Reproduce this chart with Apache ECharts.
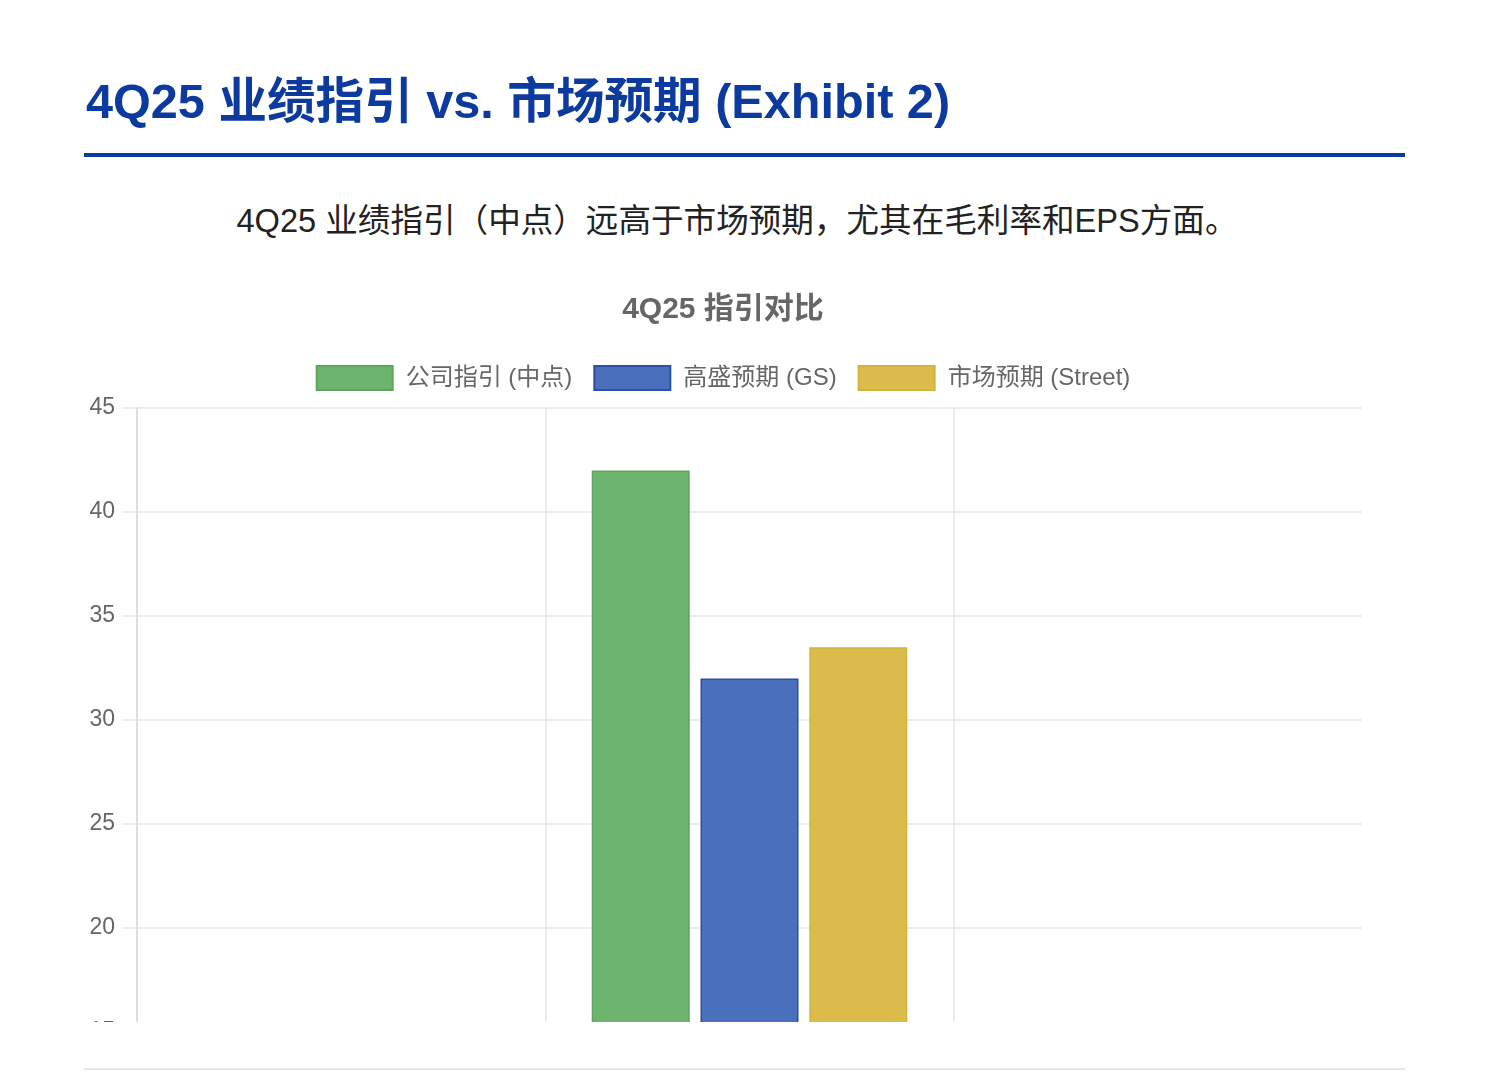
<!DOCTYPE html>
<html><head><meta charset="utf-8">
<script src="https://cdn.jsdelivr.net/npm/echarts@6/dist/echarts.min.js"></script>
<style>
html,body{margin:0;padding:0;background:#fff;width:1488px;height:1080px;overflow:hidden;}
body{font-family:"Liberation Sans","Noto Sans CJK SC",sans-serif;position:relative;}
#h1{position:absolute;left:86px;top:70px;line-height:62px;font-size:48.6px;font-weight:bold;color:#0d3a9e;white-space:nowrap;margin:0;}
#rule{position:absolute;left:84px;top:153px;width:1321px;height:4px;background:#0d3a9e;}
#sub{position:absolute;left:84px;width:1306px;top:199px;line-height:44px;font-size:32.6px;color:#222;text-align:center;white-space:nowrap;}
#clip{position:absolute;left:0;top:0;width:1488px;height:1022px;overflow:hidden;}
#chart{position:absolute;left:84px;top:0;width:1278px;height:1420px;}
#foot{position:absolute;left:84px;top:1068px;width:1321px;height:2px;background:#e6e6e6;}
</style></head>
<body>
<div id="h1">4Q25 业绩指引 vs. 市场预期 (Exhibit 2)</div>
<div id="rule"></div>
<div id="sub">4Q25 业绩指引（中点）远高于市场预期，尤其在毛利率和EPS方面。</div>
<div id="clip"><div id="chart"></div></div>
<div id="foot"></div>
<script>
const chartTitle = "4Q25 指引对比";
const categories = ["营收 (十亿美元)", "毛利率 (%)", "EPS (美元)"];
const seriesNames = ["公司指引 (中点)", "高盛预期 (GS)", "市场预期 (Street)"];
const companyGuide = [null, 42, null];
const gsEstimate = [null, 32, null];
const streetEstimate = [null, 33.5, null];
const yMin = 0, yMax = 45, yStep = 5;

const fills = ["#6db46e", "#4a6fbd", "#dbbc4b"];
const borders = ["#5aa65b", "#2d4fa3", "#d3b33d"];
const values = [companyGuide, gsEstimate, streetEstimate];

const chart = echarts.init(document.getElementById('chart'));
const font = '"Liberation Sans","Noto Sans CJK SC",sans-serif';
chart.setOption({
  animation: false,
  title: {
    text: chartTitle, left: 'center', top: 290,
    textStyle: {fontSize: 30, fontWeight: 'bold', color: '#666', fontFamily: font}
  },
  legend: {
    top: 360, left: 'center', itemWidth: 76, itemHeight: 24, itemGap: 21,
    icon: 'rect',
    textStyle: {fontSize: 24, color: '#666', fontFamily: font, padding: [0, 0, 0, 8]},
    data: seriesNames
  },
  grid: {left: 53, right: 0, top: 408, bottom: 76},
  xAxis: {
    type: 'category', data: categories, boundaryGap: true,
    axisLine: {show: true, lineStyle: {color: '#e0e0e0'}},
    axisTick: {show: false},
    axisLabel: {fontSize: 22, color: '#666', fontFamily: font},
    splitLine: {show: true, showMaxLine: false, lineStyle: {color: '#e4e4e4', width: 1.5}}
  },
  yAxis: {
    type: 'value', min: yMin, max: yMax, interval: yStep,
    axisLine: {show: true, lineStyle: {color: '#dadada', width: 1.5}},
    axisTick: {show: true, length: 14, lineStyle: {color: '#e6e6e6', width: 1.5}},
    axisLabel: {fontSize: 23, color: '#666', fontFamily: font, margin: 22},
    splitLine: {show: true, lineStyle: {color: '#e6e6e6', width: 1.5}}
  },
  series: values.map((v, i) => ({
    name: seriesNames[i], type: 'bar', data: v,
    barWidth: 98, barGap: '11%',
    itemStyle: {color: fills[i], borderColor: borders[i], borderWidth: 1.5}
  }))
});
</script>
</body></html>
